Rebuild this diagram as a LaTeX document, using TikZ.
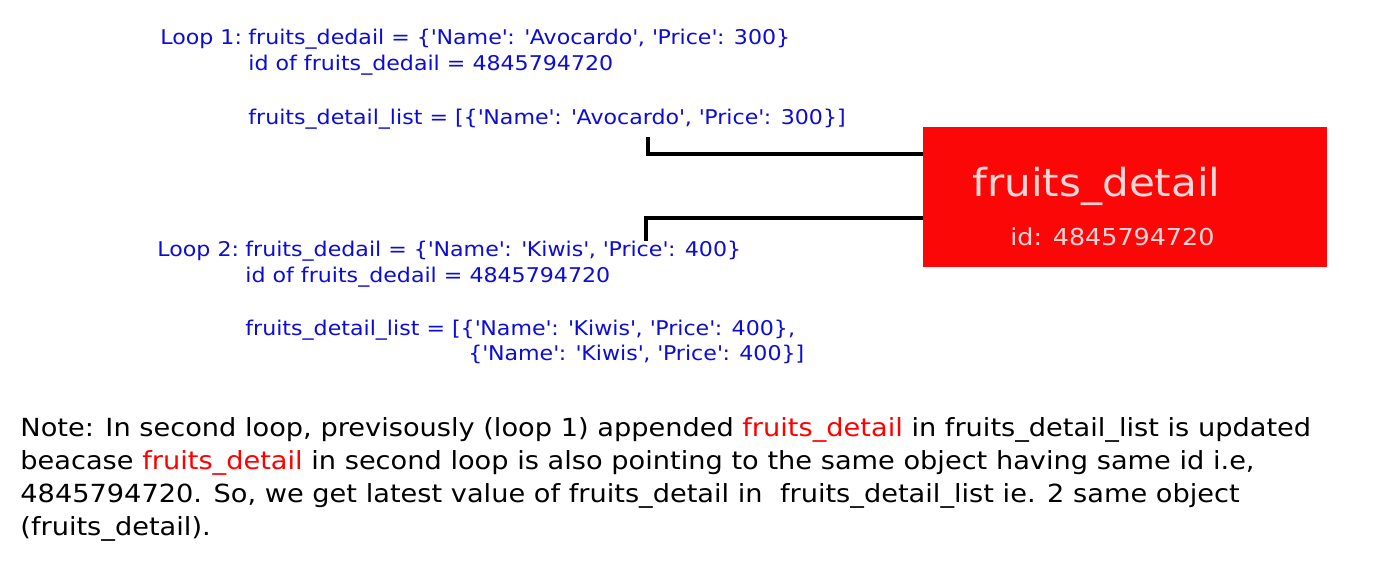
\documentclass[tikz,border=0pt]{standalone}
\usepackage{fontspec}
\setmainfont{DejaVu Sans}[FakeStretch=1.09]
\definecolor{loopblue}{RGB}{12,12,214}
\definecolor{objred}{RGB}{252,7,7}
\definecolor{objtext}{RGB}{255,214,214}
\newcommand\qt{\textquotesingle}
\begin{document}
\begin{tikzpicture}[x=0.5pt,y=-0.5pt,
    code/.style={anchor=base west,inner sep=0pt,text=loopblue,
      font=\fontsize{10.15}{12}\selectfont},
    note/.style={anchor=base west,inner sep=0pt,
      font=\fontsize{12.48}{15}\selectfont},
    link/.style={line width=2pt}]
  \useasboundingbox (0,0) rectangle (1400,567);

  % loop 1
  \node[code] (loop1) at (160,45) {Loop 1:};
  \node[code] (dict1) at (248,45)
    {fruits\_dedail = \{\qt Name\qt: \qt Avocardo\qt, \qt Price\qt: 300\}};
  \node[code] (id1) at (248,71) {id of fruits\_dedail = 4845794720};
  \node[code] (list1) at (248,124)
    {fruits\_detail\_list = [\{\qt Name\qt: \qt Avocardo\qt, \qt Price\qt: 300\}]};

  % loop 2
  \node[code] (loop2) at (157,256) {Loop 2:};
  \node[code] (dict2) at (245,256)
    {fruits\_dedail = \{\qt Name\qt: \qt Kiwis\qt, \qt Price\qt: 400\}};
  \node[code] (id2) at (245,282) {id of fruits\_dedail = 4845794720};
  \node[code] (list2) at (245,335)
    {fruits\_detail\_list = [\{\qt Name\qt: \qt Kiwis\qt, \qt Price\qt: 400\},};
  \node[code] (list2b) at (468,360)
    {\{\qt Name\qt: \qt Kiwis\qt, \qt Price\qt: 400\}]};

  % object
  \node[fill=objred,minimum width=202pt,minimum height=70pt,inner sep=0pt]
    (obj) at (1125,197) {};
  \node[anchor=base west,inner sep=0pt,text=objtext,
    font=\fontsize{19.3}{23}\selectfont] (objname) at (972,196) {fruits\_detail};
  \node[anchor=base west,inner sep=0pt,text=objtext,
    font=\fontsize{11.65}{14}\selectfont] (objid) at (1010,245) {id: 4845794720};

  % references
  \coordinate (s1) at (648,137);
  \coordinate (t1) at (648,154);
  \coordinate (s2) at (646,241);
  \coordinate (t2) at (646,218);
  \draw[link] (s1) -- (t1) -- (t1 -| obj.west);
  \draw[link] (s2) -- (t2) -- (t2 -| obj.west);

  % note
  \node[note] (note1) at (20,436) {Note: In second loop, previsously (loop 1) appended
    \textcolor{red}{fruits\_detail} in fruits\_detail\_list is updated};
  \node[note] (note2) at (20,469) {beacase \textcolor{red}{fruits\_detail} in second
    loop is also pointing to the same object having same id i.e,};
  \node[note] (note3) at (20,502) {4845794720. So, we get latest value of
    fruits\_detail in\ \ fruits\_detail\_list ie. 2 same object};
  \node[note] (note4) at (20,535) {(fruits\_detail).};
\end{tikzpicture}
\end{document}
